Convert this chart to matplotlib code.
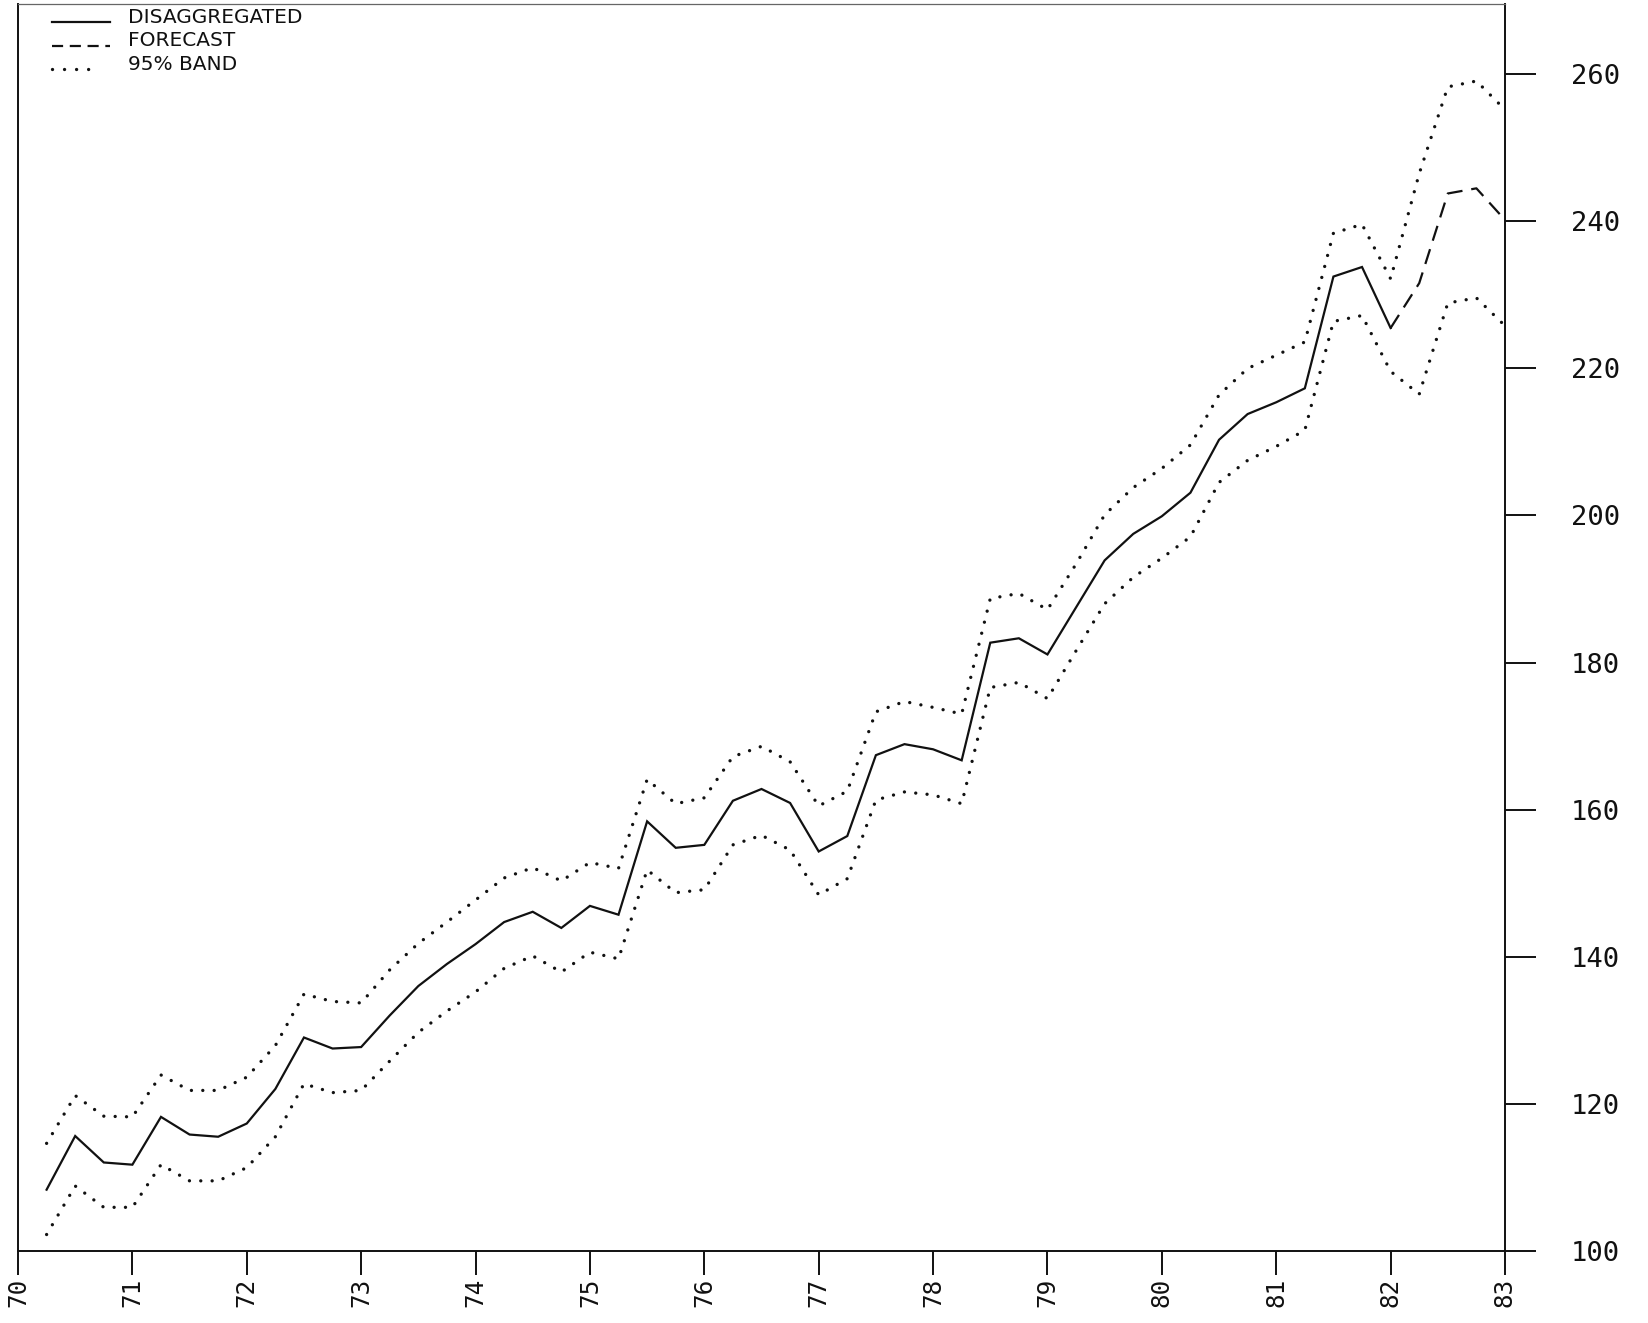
import matplotlib
matplotlib.use("Agg")
import matplotlib.pyplot as plt
import numpy as np
from matplotlib.lines import Line2D

plt.rcParams['font.family'] = ['DejaVu Sans Mono', 'DejaVu Sans']

# ---- data ----
hist_t = np.arange(70.25, 82.001, 0.25)      # quarterly, history
fc_t = np.arange(82.0, 83.001, 0.25)         # quarterly, forecast
band_t = np.arange(70.25, 83.001, 0.25)      # quarterly, band

disaggregated = [108.3, 115.6, 112.0, 111.7,
                 118.2, 115.8, 115.5, 117.3,
                 122.0, 129.0, 127.5, 127.7,
                 132.0, 136.0, 139.0, 141.7,
                 144.7, 146.1, 143.9, 146.9,
                 145.7, 158.4, 154.8, 155.2,
                 161.2, 162.8, 160.9, 154.3,
                 156.4, 167.4, 168.9, 168.2,
                 166.7, 182.7, 183.3, 181.1,
                 187.5, 193.9, 197.5, 199.9,
                 203.1, 210.3, 213.8, 215.4,
                 217.3, 232.5, 233.8, 225.5]

forecast = [225.5, 231.6, 243.8, 244.5, 240.2]

band_upper = [114.6, 121.1, 118.3, 118.2,
              123.9, 121.8, 121.8, 123.6,
              127.9, 134.9, 133.9, 133.7,
              138.2, 141.8, 144.7, 147.7,
              150.7, 152.1, 150.3, 152.8,
              152.0, 164.1, 160.8, 161.6,
              167.2, 168.6, 166.5, 160.5,
              162.5, 173.3, 174.7, 173.9,
              173.0, 188.7, 189.4, 187.2,
              193.4, 200.1, 203.8, 206.4,
              209.6, 216.4, 220.0, 221.8,
              223.6, 238.4, 239.6, 232.2,
              246.5, 258.3, 259.1, 255.2]

band_lower = [102.2, 108.8, 105.9, 105.9,
              111.7, 109.5, 109.5, 111.3,
              115.5, 122.7, 121.5, 121.8,
              125.8, 129.7, 132.6, 135.2,
              138.4, 140.1, 137.9, 140.6,
              139.7, 151.8, 148.7, 149.1,
              155.2, 156.5, 154.5, 148.4,
              150.6, 161.3, 162.4, 162.0,
              160.8, 176.6, 177.3, 175.1,
              181.6, 188.0, 191.6, 194.2,
              197.1, 204.5, 207.5, 209.4,
              211.6, 226.4, 227.2, 219.6,
              216.5, 228.9, 229.6, 225.8]

x_ticks = list(range(70, 84))
x_tick_labels = [str(v) for v in x_ticks]
y_ticks = list(range(100, 261, 20))
y_tick_labels = [str(v) for v in y_ticks]

legend_labels = ["DISAGGREGATED", "FORECAST", "95% BAND"]

# ---- figure ----
W, H = 1648, 1323
fig = plt.figure(figsize=(W / 100, H / 100), dpi=100)
fig.patch.set_facecolor('white')

left_px, right_px, bottom_px, top_px = 18, 1505, 1250.7, 4
ax = fig.add_axes([left_px / W, 1 - bottom_px / H,
                   (right_px - left_px) / W, (bottom_px - top_px) / H])

ink = '#111111'
dot_style = (0, (0.01, 3.4))
ax.plot(hist_t, disaggregated, color=ink, lw=1.6, solid_joinstyle='miter')
ax.plot(fc_t, forecast, color=ink, lw=1.6, linestyle=(0, (7, 4)))
ax.plot(band_t, band_upper, color=ink, lw=2.4, linestyle=dot_style,
        dash_capstyle='round')
ax.plot(band_t, band_lower, color=ink, lw=2.4, linestyle=dot_style,
        dash_capstyle='round')

ax.set_xlim(70, 83)
ax.set_ylim(100, 100 + (bottom_px - top_px) / 7.352)

ax.set_xticks(x_ticks)
ax.set_xticklabels(x_tick_labels)
ax.set_yticks(y_ticks)
ax.set_yticklabels(y_tick_labels)
ax.yaxis.tick_right()
ax.tick_params(axis='y', direction='out', length=22.3, width=1.4, pad=25,
               labelsize=19.5, colors=ink, left=False, right=True)
ax.tick_params(axis='x', direction='out', length=17.3, width=1.4, pad=2,
               labelsize=17.5, labelrotation=90, colors=ink)

for side in ['left', 'right', 'bottom']:
    ax.spines[side].set_linewidth(1.4)
    ax.spines[side].set_color(ink)
ax.spines['top'].set_linewidth(0.9)
ax.spines['top'].set_color('#666666')

# ---- legend (top left, plotter style) ----
def fx(px):
    return px / W

def fy(py):
    return 1 - py / H

rows_y = [23, 46.5, 70]
styles = [dict(lw=1.6, linestyle='-'),
          dict(lw=1.6, linestyle=(0, (5, 3))),
          dict(lw=2.4, linestyle=(0, (0.01, 3.6)), dash_capstyle='round')]
sample_ends = [110, 110, 92]
for label, yy, st, xe in zip(legend_labels, rows_y, styles, sample_ends):
    fig.add_artist(Line2D([fx(52), fx(xe)], [fy(yy - 1), fy(yy - 1)],
                          color=ink, transform=fig.transFigure, **st))
    fig.text(fx(128), fy(yy), label, fontsize=14.5, color=ink,
             family=['DejaVu Sans'], ha='left', va='baseline')

fig.savefig('out.png', dpi=100)
